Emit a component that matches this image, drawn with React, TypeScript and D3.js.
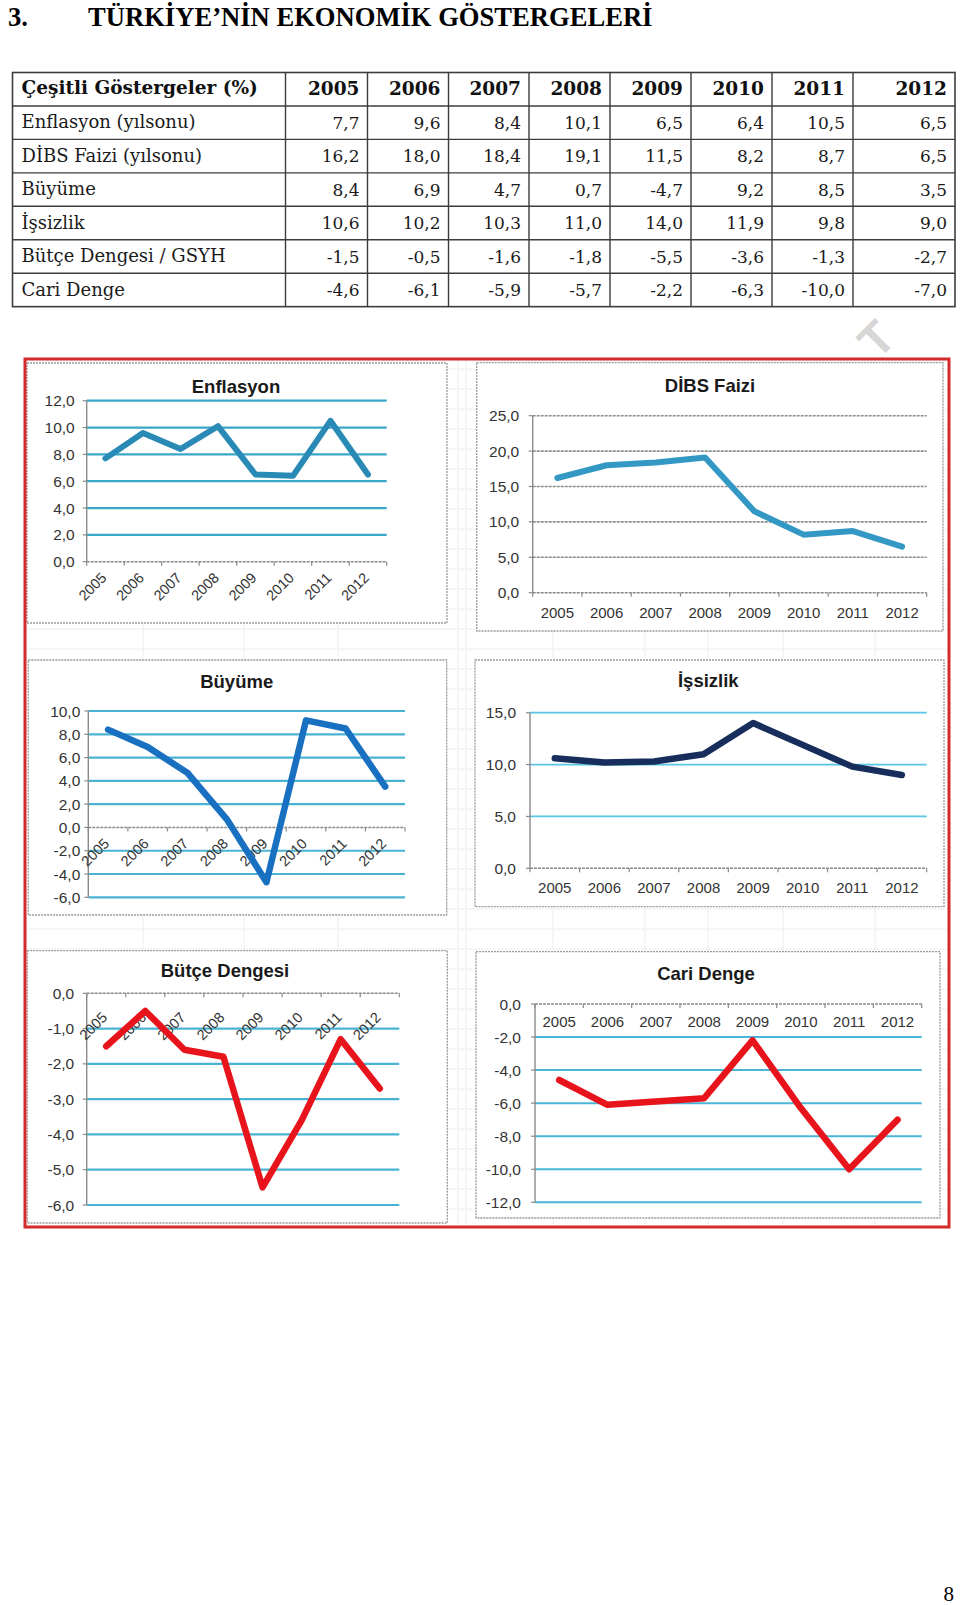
import React from "react";
import * as d3 from "d3";

// ---------------- DATA ----------------
const years = ["2005", "2006", "2007", "2008", "2009", "2010", "2011", "2012"];
const enflasyon = [7.7, 9.6, 8.4, 10.1, 6.5, 6.4, 10.5, 6.5];
const dibsFaizi = [16.2, 18.0, 18.4, 19.1, 11.5, 8.2, 8.7, 6.5];
const buyume = [8.4, 6.9, 4.7, 0.7, -4.7, 9.2, 8.5, 3.5];
const issizlik = [10.6, 10.2, 10.3, 11.0, 14.0, 11.9, 9.8, 9.0];
const butceDengesi = [-1.5, -0.5, -1.6, -1.8, -5.5, -3.6, -1.3, -2.7];
const cariDenge = [-4.6, -6.1, -5.9, -5.7, -2.2, -6.3, -10.0, -7.0];

const tableHeader = "Çeşitli Göstergeler (%)";
const tableRowLabels = [
  "Enflasyon (yılsonu)",
  "DİBS Faizi (yılsonu)",
  "Büyüme",
  "İşsizlik",
  "Bütçe Dengesi / GSYH",
  "Cari Denge",
];
const tableSeries = [enflasyon, dibsFaizi, buyume, issizlik, butceDengesi, cariDenge];

const enflasyonTicks = [0, 2, 4, 6, 8, 10, 12];
const dibsTicks = [0, 5, 10, 15, 20, 25];
const buyumeTicks = [-6, -4, -2, 0, 2, 4, 6, 8, 10];
const issizlikTicks = [0, 5, 10, 15];
const butceTicks = [-6, -5, -4, -3, -2, -1, 0];
const cariTicks = [-12, -10, -8, -6, -4, -2, 0];

const pageTitleNo = "3.";
const pageTitle = "TÜRKİYE’NİN EKONOMİK GÖSTERGELERİ";
const pageNumber = "8";

// ---------------- LAYOUT ----------------
const W = 960;
const H = 1605;
const tableCols = [12.5, 285.5, 367.5, 448.5, 529, 610, 691, 772, 853, 955];
const tableTop = 72.5;
const rowH = 33.45;
const sheetCols = [143, 244, 338, 458, 466, 553, 645, 708, 783, 875];

const fmt = (v: number) => v.toFixed(1).replace(".", ",");

type Cfg = {
  title: string;
  values: number[];
  ticks: number[];
  color: string;
  lw: number;
  box: [number, number, number, number];
  plotX: [number, number];
  plotY: [number, number];
  titlePos: [number, number];
  grid: { color: string; width: number; dash?: string };
  labelMode: "rot" | "hor";
  labelDy: number;
  tickGap: number;
};

const charts: Cfg[] = [
  {
    title: "Enflasyon",
    values: enflasyon,
    ticks: enflasyonTicks,
    color: "#2a8ab6",
    lw: 6,
    box: [27, 363, 447, 623],
    plotX: [86.7, 386.7],
    plotY: [561.7, 400.7],
    titlePos: [236, 392.7],
    grid: { color: "#3aa7c9", width: 2.2 },
    labelMode: "rot",
    labelDy: 17,
    tickGap: 12,
  },
  {
    title: "DİBS Faizi",
    values: dibsFaizi,
    ticks: dibsTicks,
    color: "#3399c4",
    lw: 6,
    box: [476.7, 362.7, 943, 631],
    plotX: [532.7, 926.7],
    plotY: [592.7, 415.7],
    titlePos: [710, 391.7],
    grid: { color: "#8c8c8c", width: 1.6, dash: "3,1" },
    labelMode: "hor",
    labelDy: 25,
    tickGap: 13.5,
  },
  {
    title: "Büyüme",
    values: buyume,
    ticks: buyumeTicks,
    color: "#1a70c0",
    lw: 6.5,
    box: [28.3, 660, 446.7, 915],
    plotX: [88.3, 405],
    plotY: [897.3, 711],
    titlePos: [236.7, 688],
    grid: { color: "#48b3d3", width: 2.2 },
    labelMode: "rot",
    labelDy: 17,
    tickGap: 8,
  },
  {
    title: "İşsizlik",
    values: issizlik,
    ticks: issizlikTicks,
    color: "#172d5c",
    lw: 6.5,
    box: [475, 660, 944, 906.7],
    plotX: [530, 926.7],
    plotY: [868.3, 712.7],
    titlePos: [708.3, 687],
    grid: { color: "#58c6e4", width: 1.8 },
    labelMode: "hor",
    labelDy: 24.4,
    tickGap: 14,
  },
  {
    title: "Bütçe Dengesi",
    values: butceDengesi,
    ticks: butceTicks,
    color: "#e8141b",
    lw: 6.5,
    box: [27.3, 950.7, 447.3, 1223],
    plotX: [86.7, 399.3],
    plotY: [1205, 993.3],
    titlePos: [225, 977.3],
    grid: { color: "#48b3d3", width: 2.2 },
    labelMode: "rot",
    labelDy: 25,
    tickGap: 12.5,
  },
  {
    title: "Cari Denge",
    values: cariDenge,
    ticks: cariTicks,
    color: "#e8141b",
    lw: 6.5,
    box: [476, 951.7, 940, 1218],
    plotX: [535, 921.7],
    plotY: [1202.3, 1004],
    titlePos: [706, 980],
    grid: { color: "#4ab6d6", width: 2 },
    labelMode: "hor",
    labelDy: 23,
    tickGap: 14,
  },
];

const SANS = "'Liberation Sans', Arial, sans-serif";
const SERIF = "'DejaVu Serif', Georgia, serif";
const TIMES = "'Liberation Serif', 'Times New Roman', serif";

function Chart({ cfg }: { cfg: Cfg }) {
  const x = d3.scalePoint<string>().domain(years).range(cfg.plotX).padding(0.5);
  const xb = d3.scaleBand<string>().domain(years).range(cfg.plotX);
  const lo = d3.min(cfg.ticks) as number;
  const hi = d3.max(cfg.ticks) as number;
  const y = d3.scaleLinear().domain([lo, hi]).range(cfg.plotY);
  const line = d3
    .line<number>()
    .x((_, i) => x(years[i]) as number)
    .y((d) => y(d));
  const [x0, x1] = cfg.plotX;
  const y0 = y(0);
  const [bx0, by0, bx1, by1] = cfg.box;
  const bounds = years.map((yr) => xb(yr) as number).concat([x1]);
  const axisColor = "#8a8a8a";
  return (
    <g>
      <rect
        x={bx0}
        y={by0}
        width={bx1 - bx0}
        height={by1 - by0}
        fill="#fff"
        stroke="#9a9a9a"
        strokeWidth={1.3}
        strokeDasharray="2,1"
      />
      <text
        x={cfg.titlePos[0]}
        y={cfg.titlePos[1]}
        textAnchor="middle"
        fontFamily={SANS}
        fontWeight="bold"
        fontSize={18.5}
        fill="#1a1a1a"
      >
        {cfg.title}
      </text>
      {/* gridlines */}
      {cfg.ticks
        .filter((t) => t !== 0)
        .map((t) => (
          <line
            key={"g" + t}
            x1={x0}
            x2={x1}
            y1={y(t)}
            y2={y(t)}
            stroke={cfg.grid.color}
            strokeWidth={cfg.grid.width}
            strokeDasharray={cfg.grid.dash}
          />
        ))}
      {/* y axis */}
      <line x1={x0} x2={x0} y1={y(hi)} y2={y(lo)} stroke={axisColor} strokeWidth={1.4} />
      {cfg.ticks.map((t) => (
        <g key={"yt" + t}>
          <line x1={x0 - 4} x2={x0} y1={y(t)} y2={y(t)} stroke={axisColor} strokeWidth={1.2} />
          <text
            x={x0 - cfg.tickGap}
            y={y(t)}
            dy="0.36em"
            textAnchor="end"
            fontFamily={SANS}
            fontSize={15.5}
            fill="#333"
          >
            {fmt(t)}
          </text>
        </g>
      ))}
      {/* x axis at zero */}
      <line x1={x0} x2={x1} y1={y0} y2={y0} stroke={axisColor} strokeWidth={1.6} strokeDasharray="3,1" />
      {bounds.map((b, i) => (
        <line key={"xt" + i} x1={b} x2={b} y1={y0} y2={y0 + 4} stroke={axisColor} strokeWidth={1.2} />
      ))}
      {/* x labels */}
      {years.map((yr) =>
        cfg.labelMode === "rot" ? (
          <text
            key={"xl" + yr}
            transform={`translate(${(x(yr) as number) + 2},${y0 + cfg.labelDy}) rotate(-45)`}
            textAnchor="end"
            fontFamily={SANS}
            fontSize={14.5}
            fill="#333"
          >
            {yr}
          </text>
        ) : (
          <text
            key={"xl" + yr}
            x={x(yr) as number}
            y={y0 + cfg.labelDy}
            textAnchor="middle"
            fontFamily={SANS}
            fontSize={15}
            fill="#333"
          >
            {yr}
          </text>
        )
      )}
      {/* data line */}
      <path
        d={line(cfg.values) as string}
        fill="none"
        stroke={cfg.color}
        strokeWidth={cfg.lw}
        strokeLinejoin="round"
        strokeLinecap="round"
      />
    </g>
  );
}

function Table() {
  const nRows = tableRowLabels.length + 1;
  const rowsY = d3.range(nRows + 1).map((i) => tableTop + i * rowH);
  const top = rowsY[0];
  const bottom = rowsY[nRows];
  const lineCol = "#3c3c3c";
  return (
    <g>
      <rect
        x={tableCols[0]}
        y={top}
        width={tableCols[tableCols.length - 1] - tableCols[0]}
        height={bottom - top}
        fill="#fff"
        stroke={lineCol}
        strokeWidth={1.6}
      />
      {rowsY.slice(1, -1).map((ry, i) => (
        <line key={"r" + i} x1={tableCols[0]} x2={tableCols[tableCols.length - 1]} y1={ry} y2={ry} stroke={lineCol} strokeWidth={1.4} />
      ))}
      {tableCols.slice(1, -1).map((cx, i) => (
        <line key={"c" + i} x1={cx} x2={cx} y1={top} y2={bottom} stroke={lineCol} strokeWidth={1.4} />
      ))}
      {/* header */}
      <text x={tableCols[0] + 9} y={top + 21.5} fontFamily={SERIF} fontWeight="bold" fontSize={18.5} fill="#111">
        {tableHeader}
      </text>
      {years.map((yr, j) => (
        <text
          key={"h" + yr}
          x={tableCols[j + 2] - 8}
          y={top + 22}
          textAnchor="end"
          fontFamily={SERIF}
          fontWeight="bold"
          fontSize={18.5}
          fill="#111"
        >
          {yr}
        </text>
      ))}
      {tableRowLabels.map((lab, i) => (
        <g key={"row" + i}>
          <text x={tableCols[0] + 9} y={rowsY[i + 1] + 22.5} fontFamily={SERIF} fontSize={18} fill="#1a1a1a">
            {lab}
          </text>
          {tableSeries[i].map((v, j) => (
            <text
              key={"v" + j}
              x={tableCols[j + 2] - 8}
              y={rowsY[i + 1] + 23}
              textAnchor="end"
              fontFamily={SERIF}
              fontSize={17}
              fill="#1a1a1a"
            >
              {fmt(v)}
            </text>
          ))}
        </g>
      ))}
    </g>
  );
}

export default function App() {
  const red = { x0: 25, y0: 359, x1: 949, y1: 1227 };
  const hLines = d3.range(red.y0 + 10, red.y1, 20);
  return (
    <svg
      width={W}
      height={H}
      viewBox={`0 0 ${W} ${H}`}
      style={{ position: "absolute", left: 0, top: 0, display: "block", background: "#fff" }}
    >
      <rect x={0} y={0} width={W} height={H} fill="#fff" />
      {/* page title */}
      <text x={8} y={25.5} fontFamily={TIMES} fontWeight="bold" fontSize={26.6} fill="#000">
        {pageTitleNo}
      </text>
      <text x={88} y={25.5} fontFamily={TIMES} fontWeight="bold" fontSize={26.6} fill="#000">
        {pageTitle}
      </text>

      <Table />

      {/* watermark */}
      <text
        transform="translate(876,338.5) rotate(-45)"
        y={17}
        textAnchor="middle"
        fontFamily={SANS}
        fontWeight="bold"
        fontSize={47}
        fill="#d6d6d6"
      >
        T
      </text>

      {/* spreadsheet background */}
      <rect x={red.x0} y={red.y0} width={red.x1 - red.x0} height={red.y1 - red.y0} fill="#fff" />
      <g stroke="#dedede" strokeWidth={1} strokeDasharray="1,1">
        {hLines.map((hy) => (
          <line key={"sh" + hy} x1={red.x0} x2={red.x1} y1={hy} y2={hy} />
        ))}
        {sheetCols.map((sx) => (
          <line key={"sv" + sx} x1={sx} x2={sx} y1={red.y0} y2={red.y1} />
        ))}
      </g>

      {charts.map((c) => (
        <Chart key={c.title} cfg={c} />
      ))}

      <rect
        x={red.x0}
        y={red.y0}
        width={red.x1 - red.x0}
        height={red.y1 - red.y0}
        fill="none"
        stroke="#d42a2a"
        strokeWidth={3}
      />

      <text x={954} y={1601} textAnchor="end" fontFamily={TIMES} fontSize={21} fill="#000">
        {pageNumber}
      </text>
    </svg>
  );
}
